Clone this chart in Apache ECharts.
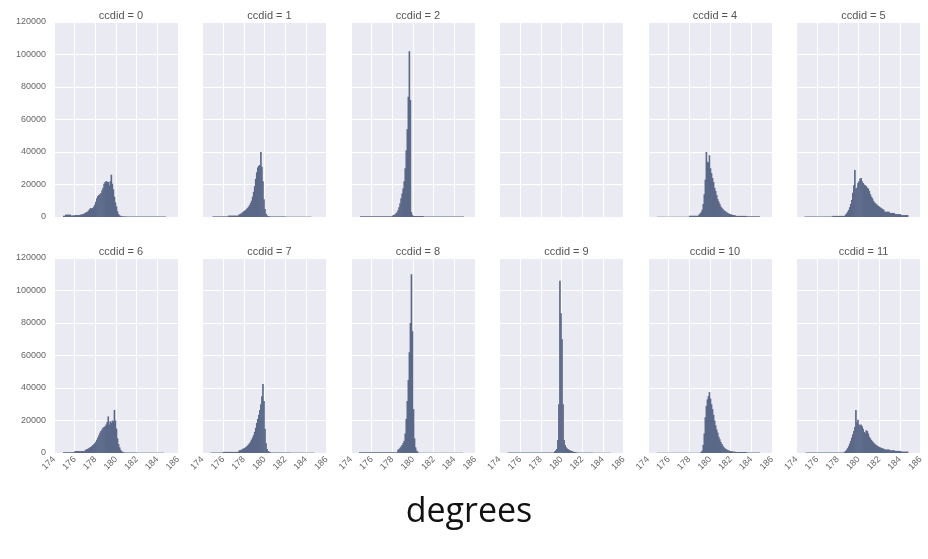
<!DOCTYPE html>
<html>
<head>
<meta charset="utf-8">
<title>ccdid histograms</title>
<script src="https://cdn.jsdelivr.net/npm/echarts@6/dist/echarts.min.js"></script>
<style>
  html, body { margin: 0; padding: 0; background: #fff; }
  #chart { width: 928px; height: 559px; }
</style>
</head>
<body>
<div id="chart"></div>
<script>
// histogram bins are 0.1 degrees wide in the core; tails are [from, to, count]
var binWidth = 0.1;
var ccdids = [0, 1, 2, 3, 4, 5, 6, 7, 8, 9, 10, 11];
var xTicks = { min: 174, max: 186, step: 2 };
var yTicks = { min: 0, max: 120000, step: 20000 };

var start0 = 176.5;
var core0 = [1400, 1500, 1700, 1900, 2200, 2600, 3000, 3300, 4000, 4800, 5500, 5300, 5600, 6400, 7500,
  9400, 11500, 13000, 13500, 14000, 14800, 16500, 18000, 20500, 21500, 22000, 21800, 21500, 19500, 22000,
  26000, 20500, 17000, 12500, 9000, 6500, 3500, 1800, 1000, 700, 500, 400, 350, 300, 300];
var tails0 = [[174.9, 175.1, 800], [175.1, 175.6, 1500], [175.6, 176.0, 1000], [176.0, 176.5, 1200], [181.0, 184.8, 250]];

var start1 = 177.5;
var core1 = [1500, 1800, 2200, 2700, 3200, 3700, 4200, 4800, 5500, 6300, 7200, 8500, 10000, 12500, 15500,
  19000, 23500, 27500, 30500, 31500, 32000, 40000, 31000, 22000, 11000, 5000, 2000, 1000, 600, 400];
var tails1 = [[175.0, 176.5, 400], [176.5, 177.5, 900], [180.5, 182.0, 350], [182.0, 184.5, 200]];

var start2 = 178.0;
var core2 = [900, 1200, 1600, 2200, 3000, 4200, 6000, 8500, 11500, 14500, 17500, 22000, 30000, 41000, 54000,
  74000, 102000, 72000, 3000, 1200];
var tails2 = [[174.9, 178.0, 500], [180.0, 181.0, 600], [181.0, 184.9, 250]];

var start4 = 178.9;
var core4 = [1500, 2200, 3000, 4500, 8000, 14000, 23000, 40000, 34000, 33500, 38000, 30000, 27000, 24000, 21500,
  18000, 16000, 13500, 11000, 9500, 8000, 6500, 5700, 5000, 4200, 3700, 3200, 2700, 2300, 2000,
  1800, 1600, 1400, 1200, 1100, 1000];
var tails4 = [[174.9, 178.0, 200], [178.0, 178.9, 800], [182.5, 183.5, 700], [183.5, 184.8, 450]];

var start5 = 178.7;
var core5 = [1500, 2200, 3200, 4300, 6000, 8000, 10500, 15000, 19500, 29000, 17500, 18000, 21000, 22000, 23500,
  24000, 22000, 21000, 20000, 19500, 19000, 18000, 17500, 16000, 14000, 12500, 11500, 10000, 9000, 8400,
  7800, 7200, 6800, 6200, 5700, 5300, 4800, 4400];
var tails5 = [[174.8, 177.5, 300], [177.5, 178.7, 700], [182.5, 183.0, 3300], [183.0, 183.5, 2500], [183.5, 184.1, 1800], [184.1, 184.8, 1200]];

var start6 = 177.0;
var core6 = [2000, 2200, 2500, 2900, 3300, 3700, 4200, 4800, 5400, 6000, 7000, 8200, 9500, 11000, 12500,
  13500, 14500, 15500, 16000, 16500, 17500, 19000, 22500, 17500, 19500, 18500, 20000, 19500, 26500, 20000,
  15000, 9000, 5500, 3500, 2000, 1100, 700, 450];
var tails6 = [[174.9, 176.0, 500], [176.0, 177.0, 1200], [180.8, 182.0, 300], [182.0, 184.6, 200]];

var start7 = 177.5;
var core7 = [1500, 1700, 2000, 2300, 2700, 3000, 3400, 3900, 4500, 5200, 6000, 7000, 8200, 9500, 11000,
  13000, 15500, 18500, 21000, 23500, 26500, 30000, 35000, 42500, 32000, 15000, 6000, 2500, 1200, 700, 450];
var tails7 = [[174.8, 176.0, 300], [176.0, 177.5, 700], [180.6, 182.5, 300], [182.5, 184.8, 200]];

var start8 = 178.5;
var core8 = [2000, 2500, 3200, 4000, 5000, 6200, 7500, 12000, 21000, 32000, 45000, 62000, 80000, 110000, 75000,
  27000, 9000, 3500, 1500, 800];
var tails8 = [[174.8, 178.5, 400], [180.5, 184.8, 200]];

var start9 = 179.3;
var core9 = [1000, 1500, 2500, 8000, 30000, 106000, 86000, 70000, 30000, 8000, 5000, 3500, 2800, 2300, 1900,
  1600, 1300, 1000, 800, 600, 500, 400];
var tails9 = [[174.8, 179.3, 300], [181.5, 183.0, 250], [183.0, 184.8, 150]];

var start10 = 179.1;
var core10 = [600, 1500, 5000, 12000, 22000, 29000, 33000, 35000, 37500, 33500, 30000, 27000, 23500, 20000, 17000,
  14500, 12500, 10000, 8500, 6800, 5500, 4500, 3500, 2900, 2400, 2000, 1700, 1500, 1300, 1100,
  1000, 900, 800, 750];
var tails10 = [[174.9, 179.1, 200], [182.5, 183.5, 600], [183.5, 184.8, 300]];

var start11 = 178.6;
var core11 = [700, 1200, 2000, 3000, 4200, 5800, 7500, 9500, 11500, 13500, 16000, 26500, 19000, 20500, 17500,
  17000, 17500, 16500, 15000, 13000, 12000, 14000, 13500, 12000, 10000, 9000, 8000, 7200, 6500, 5800,
  5200, 4800, 4300, 3900, 3600, 3300, 3000, 2800, 2600];
var tails11 = [[174.9, 178.6, 250], [182.5, 183.0, 2200], [183.0, 183.5, 1700], [183.5, 184.1, 1300], [184.1, 184.8, 900]];

var panels = {
  0: [start0, core0, tails0], 1: [start1, core1, tails1], 2: [start2, core2, tails2],
  4: [start4, core4, tails4], 5: [start5, core5, tails5], 6: [start6, core6, tails6],
  7: [start7, core7, tails7], 8: [start8, core8, tails8], 9: [start9, core9, tails9],
  10: [start10, core10, tails10], 11: [start11, core11, tails11]
};

var barColor = '#5b6888';
var colLeft = [54, 202.5, 351, 499.5, 648, 796.5];
var rowTop = [22, 258];
var plotW = 124, plotH = 195;

function toBins(p) {
  var out = [];
  p[2].forEach(function (t) { out.push([t[0], t[1], t[2]]); });
  p[1].forEach(function (c, i) {
    var x0 = p[0] + i * binWidth;
    out.push([x0, x0 + binWidth, c]);
  });
  return out;
}

function renderBin(params, api) {
  var a = api.coord([api.value(0), api.value(2)]);
  var b = api.coord([api.value(1), 0]);
  // small overlap so neighbouring bins don't leave antialias seams
  return {
    type: 'rect',
    shape: { x: a[0] - 0.3, y: a[1], width: Math.max(b[0] - a[0], 0.8) + 0.6, height: b[1] - a[1] },
    style: { fill: barColor }
  };
}

function plainNumber(v) { return String(v); }

var grids = [], xAxes = [], yAxes = [], series = [], titles = [];
ccdids.forEach(function (id, k) {
  var col = k % 6, row = Math.floor(k / 6);
  grids.push({
    left: colLeft[col], top: rowTop[row], width: plotW, height: plotH,
    show: true, backgroundColor: '#eaeaf2', borderWidth: 0
  });
  xAxes.push({
    gridIndex: k, type: 'value', min: xTicks.min, max: xTicks.max, interval: xTicks.step,
    axisLine: { show: false }, axisTick: { show: false },
    splitLine: { show: true, lineStyle: { color: '#ffffff', width: 1 } },
    axisLabel: {
      show: row === 1, rotate: 45, fontSize: 9, color: '#666', margin: 5,
      fontFamily: 'Liberation Sans', formatter: plainNumber, showMinLabel: true, showMaxLabel: true
    }
  });
  yAxes.push({
    gridIndex: k, type: 'value', min: yTicks.min, max: yTicks.max, interval: yTicks.step,
    axisLine: { show: false }, axisTick: { show: false },
    splitLine: { show: true, lineStyle: { color: '#ffffff', width: 1 } },
    axisLabel: {
      show: col === 0, fontSize: 9, color: '#666', margin: 8,
      fontFamily: 'Liberation Sans', formatter: plainNumber
    }
  });
  if (panels[id]) {
    titles.push({
      text: 'ccdid = ' + id, left: colLeft[col] + plotW / 2, top: rowTop[row] - 17, textAlign: 'center',
      textStyle: { fontSize: 11, fontWeight: 'normal', color: '#555', fontFamily: 'Liberation Sans' }
    });
    series.push({
      type: 'custom', xAxisIndex: k, yAxisIndex: k, renderItem: renderBin,
      encode: { x: [0, 1], y: 2 }, data: toBins(panels[id]), silent: true
    });
  }
});

titles.push({
  text: 'degrees', left: 464, top: 490, textAlign: 'center',
  textStyle: { fontSize: 34, fontWeight: 'normal', color: '#111', fontFamily: 'Open Sans' }
});

var chart = echarts.init(document.getElementById('chart'), null, { renderer: 'canvas' });
chart.setOption({
  animation: false,
  backgroundColor: '#ffffff',
  title: titles,
  grid: grids,
  xAxis: xAxes,
  yAxis: yAxes,
  series: series
});
</script>
</body>
</html>
